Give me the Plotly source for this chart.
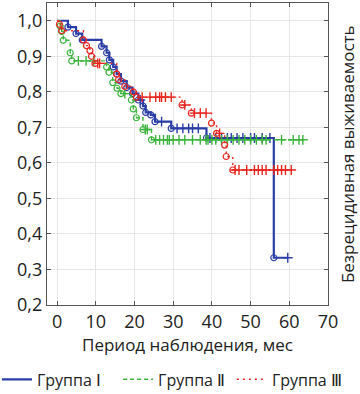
import plotly.graph_objects as go

# ---- data ----
group_names = ["Группа Ⅰ", "Группа Ⅱ", "Группа Ⅲ"]

# Group I (events: time, survival after event)
g1_event_t = [2.8, 4.9, 6.5, 11.5, 12.8, 13.5, 14.5, 15.4, 16.5, 18.0, 19.5, 21.0, 22.2, 22.9, 24.2, 25.3, 29.5, 38.6, 56.0]
g1_event_s = [0.982, 0.964, 0.946, 0.928, 0.910, 0.890, 0.870, 0.850, 0.830, 0.812, 0.795, 0.777, 0.760, 0.742, 0.735, 0.716, 0.697, 0.670, 0.333]
g1_cens_t = [21.5, 27.0, 31.0, 32.5, 34.0, 35.0, 36.5, 39.5, 41.0, 42.5, 44.0, 45.0, 46.5, 48.0, 50.0, 51.0, 53.0, 55.0, 59.6]

# Group II
g2_event_t = [0.8, 1.2, 1.6, 3.4, 3.8, 12.8, 13.4, 14.4, 15.5, 16.5, 19.2, 19.7, 20.5, 22.2, 24.4]
g2_event_s = [0.985, 0.970, 0.945, 0.910, 0.887, 0.870, 0.855, 0.826, 0.810, 0.795, 0.777, 0.752, 0.727, 0.694, 0.665]
g2_cens_t = [5.5, 7.5, 9.5, 17.5, 22.8, 23.3, 25.5, 26.5, 27.5, 28.5, 29.0, 30.0, 31.5, 33.0, 35.0, 37.0, 38.5,
             39.0, 40.0, 41.0, 42.5, 44.0, 45.5, 47.0, 48.5, 50.0, 51.5, 53.0, 54.0, 58.0, 61.0, 62.5, 63.5]

# Group III
g3_event_t = [0.6, 1.2, 6.8, 7.6, 8.5, 8.9, 9.8, 15.4, 15.9, 17.5, 19.7, 20.5, 32.3, 34.7, 39.9, 41.2, 43.3, 43.7, 45.4]
g3_event_s = [0.990, 0.972, 0.946, 0.930, 0.916, 0.900, 0.880, 0.850, 0.834, 0.815, 0.800, 0.785, 0.763, 0.740, 0.712, 0.683, 0.650, 0.618, 0.580]
g3_cens_t = [10.5, 11.0, 22.0, 24.0, 25.5, 26.5, 27.0, 28.0, 29.5, 33.0, 35.5, 37.0, 38.5, 42.0,
             46.0, 47.0, 49.0, 51.0, 52.0, 53.0, 54.0, 56.0, 57.0, 58.0, 59.0, 60.5]

colors = ["#2b3ea6", "#3cb43c", "#e8261f"]
dashes = ["solid", "4px,3px", "2px,4px"]
widths = [2.2, 1.4, 1.4]
legend_ids = ["legend", "legend2", "legend3"]
legend_x = [-0.178, 0.253, 0.658]

x_title = "Период наблюдения, мес"
y_title = "Безрецидивная выживаемость"


def surv_at(t, ev_t, ev_s):
    s = 1.0
    for et, es in zip(ev_t, ev_s):
        if et <= t:
            s = es
    return s


FONT = "Open Sans"
fig = go.Figure()
groups = [(g1_event_t, g1_event_s, g1_cens_t), (g2_event_t, g2_event_s, g2_cens_t), (g3_event_t, g3_event_s, g3_cens_t)]
for i, (et, es, ct) in enumerate(groups):
    end_t = max(et[-1], max(ct))
    xs = [0] + et + [end_t]
    ys = [1.0] + es + [es[-1]]
    fig.add_trace(go.Scatter(x=xs, y=ys, mode="lines", line_shape="hv",
                             line=dict(color=colors[i], width=widths[i], dash=dashes[i]),
                             name=group_names[i], showlegend=True, legend=legend_ids[i]))
    fig.add_trace(go.Scatter(x=et, y=es, mode="markers",
                             marker=dict(symbol="circle-open", size=6, color=colors[i], line=dict(width=1.2)),
                             showlegend=False))
    cy = [surv_at(t, et, es) for t in ct]
    fig.add_trace(go.Scatter(x=ct, y=cy, mode="markers",
                             marker=dict(symbol="cross-thin-open", size=7, color=colors[i], line=dict(width=1.4, color=colors[i])),
                             showlegend=False))

legend_style = dict(orientation="h", xanchor="left", y=-0.19, yanchor="top",
                    font=dict(size=16), itemwidth=30, bgcolor="rgba(0,0,0,0)")

fig.update_layout(
    width=360, height=394,
    margin=dict(l=47, r=32, t=3, b=89, autoexpand=False),
    paper_bgcolor="white", plot_bgcolor="white",
    separators=", ",
    font=dict(family=FONT, size=17, color="#222"),
    showlegend=True,
    legend=dict(x=legend_x[0], **legend_style),
    legend2=dict(x=legend_x[1], **legend_style),
    legend3=dict(x=legend_x[2], **legend_style),
    annotations=[dict(text=y_title, textangle=-90, xref="paper", yref="paper",
                      x=1.068, y=0.5, xanchor="center", yanchor="middle",
                      showarrow=False, font=dict(size=17, family=FONT, color="#222"))],
)
fig.update_xaxes(range=[-2.6, 70], dtick=10, tick0=0, showgrid=True, gridcolor="#e6e6e6", gridwidth=1,
                 showline=True, linecolor="#555", linewidth=1.2, mirror="ticks",
                 ticks="inside", ticklen=4, tickcolor="#555", zeroline=False,
                 title=dict(text=x_title, standoff=6, font=dict(size=17)),
                 tickfont=dict(size=18))
fig.update_yaxes(range=[0.2, 1.05], dtick=0.1, tick0=0.2, tickformat=".1f", showgrid=True, gridcolor="#e6e6e6",
                 showline=True, linecolor="#555", linewidth=1.2, mirror="ticks",
                 ticks="inside", ticklen=4, tickcolor="#555", zeroline=False,
                 tickfont=dict(size=18))

fig.write_html("out.html", config={"displayModeBar": False},
               post_script="document.body.style.margin='0px';")
